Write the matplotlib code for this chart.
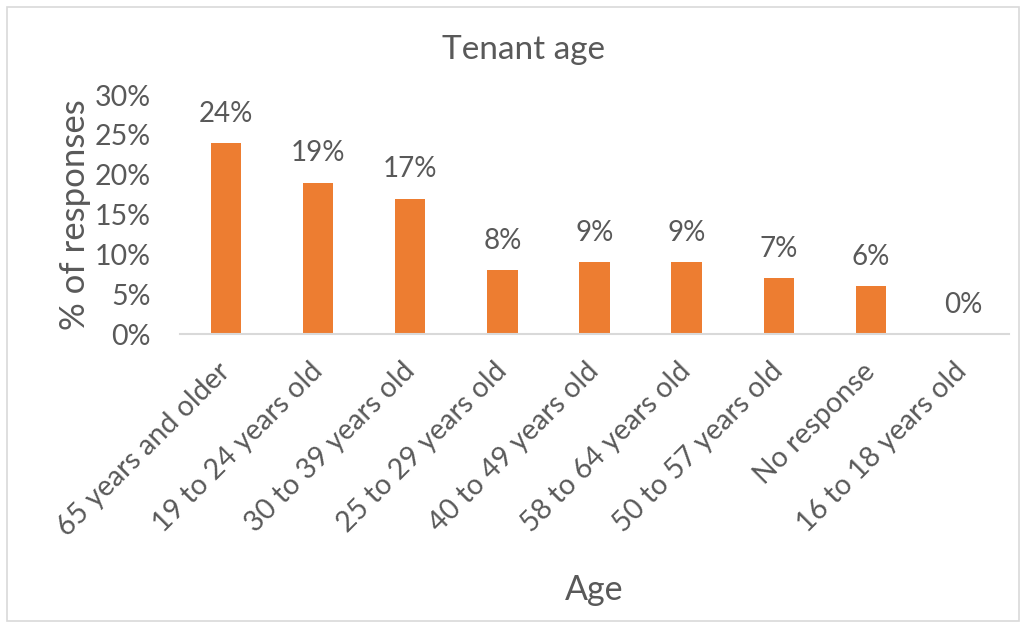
import matplotlib.pyplot as plt
from matplotlib.patches import Rectangle

categories = ["65 years and older", "19 to 24 years old", "30 to 39 years old",
              "25 to 29 years old", "40 to 49 years old", "58 to 64 years old",
              "50 to 57 years old", "No response", "16 to 18 years old"]
shares = [0.24, 0.19, 0.17, 0.08, 0.09, 0.09, 0.07, 0.06, 0.0]
yticks = [0, 0.05, 0.10, 0.15, 0.20, 0.25, 0.30]

text_col = "#595959"
plt.rcParams['font.family'] = ['Lato', 'DejaVu Sans']

fig = plt.figure(figsize=(10.26, 6.26), dpi=100)
ax = fig.add_axes([180/1026, 1-334/626, 829/1026, 239/626])

x = range(len(categories))
ax.bar(x, shares, width=0.33, color="#ED7D31")
for xi, v in zip(x, shares):
    ax.annotate("%d%%" % round(v*100), (xi, v), xytext=(0, 21), textcoords="offset points",
                ha="center", va="center", fontsize=20, color=text_col)

ax.set_xlim(-0.5, len(categories)-0.5)
ax.set_ylim(0, 0.30)
ax.set_yticks(yticks)
ax.set_yticklabels(["%d%%" % round(t*100) for t in yticks], fontsize=20.5, color=text_col)
ax.set_xticks(list(x))
ax.set_xticklabels(categories, rotation=45, ha="right", va="center", rotation_mode="anchor",
                   fontsize=20.5, color=text_col)
ax.tick_params(axis="both", length=0)
ax.tick_params(axis="x", pad=24)
ax.tick_params(axis="y", pad=21)
for s in ["top", "right", "left"]:
    ax.spines[s].set_visible(False)
ax.spines["bottom"].set_color("#d9d9d9")
ax.spines["bottom"].set_linewidth(1.5)

fig.text(75/1026, 1-215/626, "% of responses", rotation=90, ha="center", va="center",
         fontsize=25, color=text_col)
fig.text(594/1026, 1-590/626, "Age", ha="center", va="center", fontsize=24.5, color=text_col)
fig.text(524/1026, 1-50/626, "Tenant age", ha="center", va="center", fontsize=24, color=text_col)

fig.patches.append(Rectangle((7/1026, 5/626), 1012/1026, 614/626, transform=fig.transFigure,
                             fill=False, edgecolor="#d9d9d9", linewidth=1.2))

plt.savefig("out.png", dpi=100)
